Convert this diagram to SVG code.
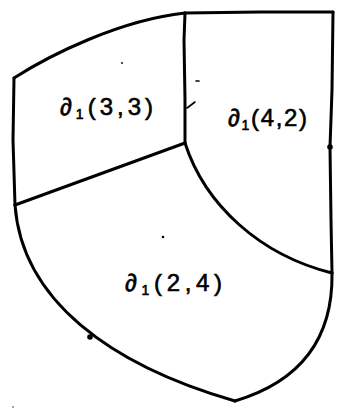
<svg xmlns="http://www.w3.org/2000/svg" width="342" height="413" viewBox="0 0 342 413">
<style>
.ln{fill:none;stroke:#000;stroke-width:3;stroke-linecap:round;stroke-linejoin:round}
.thin{fill:none;stroke:#000;stroke-width:1.6;stroke-linecap:round}
.lb{font-family:"Liberation Sans","DejaVu Sans",sans-serif;font-size:24px;fill:#000;stroke:#000;stroke-width:0.6}
.sb{font-size:14px}
</style>
<rect width="342" height="413" fill="#fff"/>
<g id="connectors">
<path class="ln" d="M14,78 C50,55 120,20 185,13"/>
<path class="ln" d="M185,13 L260,12 L333,12"/>
<path class="ln" d="M333,12 L332,90 L330,147 L331,220 L332,273"/>
<path class="ln" d="M332,273 C333,335 305,380 235,401"/>
<path class="ln" d="M235,401 C110,365 22,300 15,205"/>
<path class="ln" d="M15,205 L13,140 L14,78"/>
<path class="ln" d="M185,13 L184,40 L185,100 L185,143"/>
<path class="ln" d="M185,143 L15,205"/>
<path class="ln" d="M185,143 C205,205 260,255 332,273"/>
<path class="thin" d="M187,108 L195,102"/>
<path class="thin" d="M196,81 L199,81"/>
<circle cx="330" cy="147" r="2.8"/>
<circle cx="90" cy="337" r="2.8"/>
<circle cx="122" cy="63" r="0.9"/>
<circle cx="163" cy="237" r="1.3"/>
<circle cx="13" cy="407" r="0.7"/>
</g>
<g id="region-3-3">
<text class="lb" x="60" y="115" textLength="93" lengthAdjust="spacing">∂<tspan class="sb" dy="4">1</tspan><tspan dy="-4">(3,3)</tspan></text>
</g>
<g id="region-4-2">
<text class="lb" x="228" y="126" textLength="79" lengthAdjust="spacing">∂<tspan class="sb" dy="4">1</tspan><tspan dy="-4">(4,2)</tspan></text>
</g>
<g id="region-2-4">
<text class="lb" x="125" y="291" textLength="97" lengthAdjust="spacing">∂<tspan class="sb" dy="4">1</tspan><tspan dy="-4">(2,4)</tspan></text>
</g>
</svg>
